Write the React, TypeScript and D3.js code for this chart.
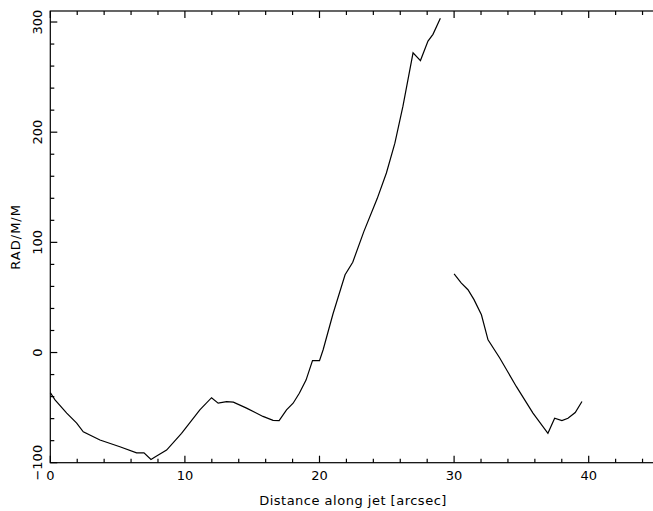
import React, { useEffect, useRef } from "react";
import * as d3 from "d3";

// first segment of the profile (distance in arcsec, RAD/M/M)
const seg1X = [0, 0.35, 1.22, 1.96, 2.45, 3.69, 5.17, 6.41, 6.96, 7.48, 7.9, 8.64, 9.75, 11.11, 11.98, 12.47, 13.1, 13.6, 14.58, 15.8, 16.55, 17.0, 17.55, 18.04, 18.5, 19.0, 19.48, 20.0, 20.27, 21.0, 21.9, 22.47, 23.3, 24.28, 24.97, 25.6, 26.2, 26.95, 27.5, 28.06, 28.43, 28.98];
const seg1Y = [-36.4, -43, -55, -64, -72, -79.4, -85.5, -91, -91, -97, -94, -88.5, -73.3, -52, -41, -46, -44.5, -45, -50.5, -58, -61.5, -61.8, -52, -46, -37, -25, -7.3, -7.3, 2.5, 35, 70.6, 82, 110, 139.5, 163, 190, 223.6, 272, 265, 282.7, 288.8, 303.4];

// second segment
const seg2X = [30.0, 30.54, 31.03, 31.48, 32.03, 32.52, 33.39, 34.63, 35.86, 36.97, 37.47, 38.01, 38.46, 39.0, 39.5];
const seg2Y = [71.3, 63, 57, 48, 34.3, 11.5, -5, -31, -55, -73.3, -59.6, -61.8, -59.6, -54.5, -44.5];

const xTicks = [0, 10, 20, 30, 40];
const yTicks = [-100, 0, 100, 200, 300];

const App = () => {
  const svgRef = useRef<SVGSVGElement>(null);

  useEffect(() => {
    const svg = d3.select(svgRef.current);
    svg.selectAll("*").remove();

    const w = 653;
    const h = 511;
    const left = 50.3;
    const right = 656;
    const top = 11;
    const bottom = 462.7;
    const font = "DejaVu Sans, sans-serif";

    svg.attr("width", w).attr("height", h).style("background", "#fff");

    const x = d3.scaleLinear().domain([0, 45]).range([left, right]);
    const y = d3.scaleLinear().domain([-100, 310]).range([bottom, top]);

    const g = svg.append("g").attr("stroke", "#000").attr("stroke-width", 1.2).attr("fill", "none");

    // frame
    g.append("rect")
      .attr("x", left)
      .attr("y", top)
      .attr("width", right - left)
      .attr("height", bottom - top);

    // x ticks, bottom and top, major every 10 and minor every 2
    const xMinor = d3.range(0, 46, 2);
    xMinor.forEach((v) => {
      const len = v % 10 === 0 ? 7 : 4;
      g.append("line").attr("x1", x(v)).attr("x2", x(v)).attr("y1", bottom).attr("y2", bottom - len);
      g.append("line").attr("x1", x(v)).attr("x2", x(v)).attr("y1", top).attr("y2", top + len);
    });

    // y ticks, major every 100 and minor every 20
    const yMinor = d3.range(-100, 311, 20);
    yMinor.forEach((v) => {
      const len = v % 100 === 0 ? 7 : 4;
      g.append("line").attr("x1", left).attr("x2", left + len).attr("y1", y(v)).attr("y2", y(v));
    });

    // tick labels
    svg.selectAll(".xl")
      .data(xTicks)
      .join("text")
      .attr("x", (d) => x(d))
      .attr("y", 479.5)
      .attr("text-anchor", "middle")
      .attr("font-family", font)
      .attr("font-size", 13)
      .text((d) => String(d));

    svg.selectAll(".yl")
      .data(yTicks)
      .join("text")
      .attr("transform", (d) => `translate(42,${y(d)}) rotate(-90)`)
      .attr("text-anchor", "middle")
      .attr("font-family", font)
      .attr("font-size", 13)
      .text((d) => (d < 0 ? "\u2212" + Math.abs(d) : String(d)));

    // axis titles
    svg.append("text")
      .attr("x", 353)
      .attr("y", 505)
      .attr("text-anchor", "middle")
      .attr("font-family", font)
      .attr("font-size", 13)
      .attr("letter-spacing", 0.5)
      .text("Distance along jet [arcsec]");

    svg.append("text")
      .attr("transform", `translate(20,${(top + bottom) / 2}) rotate(-90)`)
      .attr("text-anchor", "middle")
      .attr("font-family", font)
      .attr("font-size", 13)
      .attr("letter-spacing", 1)
      .text("RAD/M/M");

    // lines
    const line = d3
      .line<[number, number]>()
      .x((d) => x(d[0]))
      .y((d) => y(d[1]));

    const segs = [d3.zip(seg1X, seg1Y), d3.zip(seg2X, seg2Y)] as [number, number][][];
    svg.selectAll(".seg")
      .data(segs)
      .join("path")
      .attr("d", (d) => line(d))
      .attr("fill", "none")
      .attr("stroke", "#000")
      .attr("stroke-width", 1.2);
  }, []);

  return <svg ref={svgRef} style={{ position: "absolute", left: 0, top: 0, display: "block" }}></svg>;
};

export default App;
